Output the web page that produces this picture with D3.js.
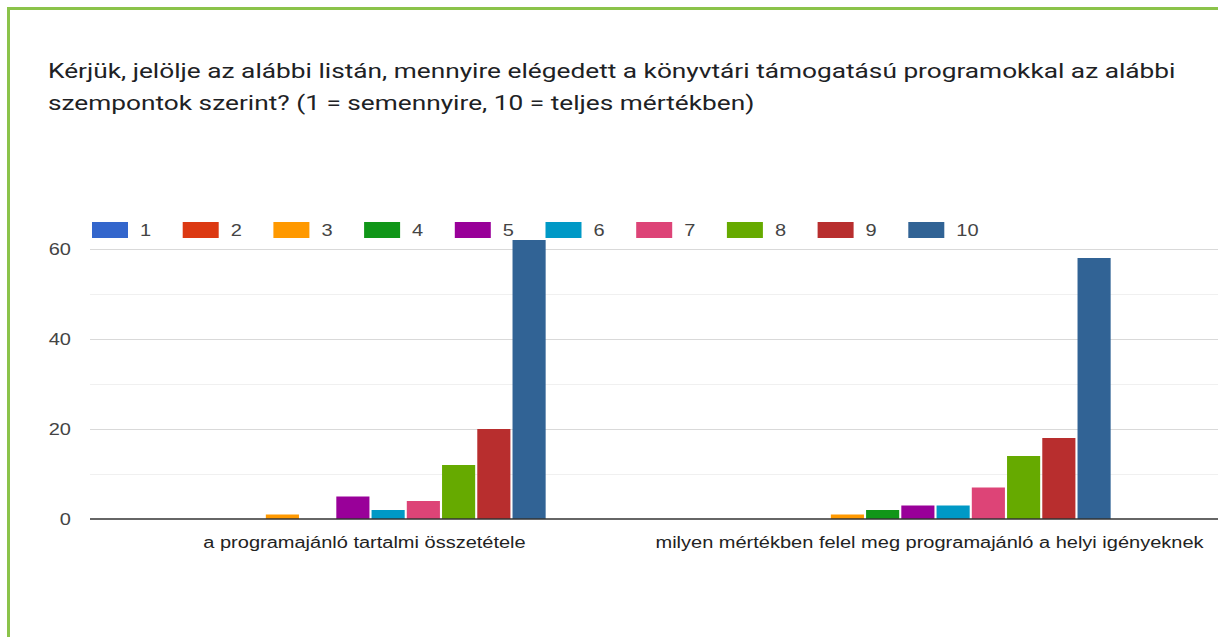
<!DOCTYPE html>
<html>
<head>
<meta charset="utf-8">
<script src="https://cdn.jsdelivr.net/npm/d3@7"></script>
<style>
  html, body { margin: 0; padding: 0; background: #fff; }
  svg { display: block; font-family: Roboto, Arial, sans-serif; }
</style>
</head>
<body>
<div id="chart"></div>
<script>
// chart data
let titleLines = [
	"Kérjük, jelölje az alábbi listán, mennyire elégedett a könyvtári támogatású programokkal az alábbi",
	"szempontok szerint? (1 = semennyire, 10 = teljes mértékben)",
];
let categories = [
	"a programajánló tartalmi összetétele",
	"milyen mértékben felel meg programajánló a helyi igényeknek",
];
let seriesNames = ["1", "2", "3", "4", "5", "6", "7", "8", "9", "10"];
let valuesTartalom = [0, 0, 1, 0, 5, 2, 4, 12, 20, 62];
let valuesIgenyek = [0, 0, 1, 2, 3, 3, 7, 14, 18, 58];
let yTicks = [0, 20, 40, 60];
let yMinorTicks = [10, 30, 50];
let colors = [
	"#3366cc", "#dc3912", "#ff9900", "#109618", "#990099",
	"#0099c6", "#dd4477", "#66aa00", "#b82e2e", "#316395",
];

let seriesValues = [valuesTartalom, valuesIgenyek];

let width = 1218;
let height = 637;
let plot = { left: 90, right: 1218, top: 249, bottom: 519 };
let stretch = 1.25; // the screenshot is a bit wider than tall
let chartFont = "'Liberation Sans', Arial, sans-serif";

// scale a text horizontally around its own anchor
let widen = (x, y) => `translate(${x},${y}) scale(${stretch},1)`;

let svg = d3
	.select("#chart")
	.append("svg")
	.attr("width", width)
	.attr("height", height);

// green frame, cut at the right / bottom like the screenshot
svg
	.append("rect")
	.attr("x", 8.5)
	.attr("y", 8.5)
	.attr("width", width + 20)
	.attr("height", height + 20)
	.attr("fill", "none")
	.attr("stroke", "#8bc34a")
	.attr("stroke-width", 3);

svg
	.append("g")
	.selectAll("text")
	.data(titleLines)
	.join("text")
	.attr("transform", (d, i) => widen(48, 78 + i * 32))
	.attr("font-size", 21)
	.attr("fill", "#202124")
	.text((d) => d);

let xScale = d3
	.scaleBand()
	.domain(categories)
	.range([88, 1218])
	.paddingInner(0.38)
	.paddingOuter(0.19);

let xInner = d3
	.scaleBand()
	.domain(seriesNames)
	.range([0, xScale.bandwidth()])
	.paddingInner(0.06);

let yScale = d3
	.scaleLinear()
	.domain([0, 60])
	.range([plot.bottom, plot.top]);

// minor gridlines
svg
	.append("g")
	.selectAll("line")
	.data(yMinorTicks)
	.join("line")
	.attr("x1", plot.left)
	.attr("x2", plot.right)
	.attr("y1", (d) => yScale(d) + 0.5)
	.attr("y2", (d) => yScale(d) + 0.5)
	.attr("stroke", "#f0f0f0");

let yAxis = d3
	.axisLeft(yScale)
	.tickValues(yTicks)
	.tickSizeInner(-(plot.right - plot.left))
	.tickSizeOuter(0)
	.tickPadding(0);

svg
	.append("g")
	.attr("transform", `translate(${plot.left},0)`)
	.call(yAxis)
	.call((g) => g.select(".domain").remove())
	.call((g) =>
		g
			.selectAll("line")
			.attr("stroke", (d) => (d === 0 ? "none" : "#d9d9d9"))
	)
	.call((g) =>
		g
			.selectAll("text")
			.attr("x", null)
			.attr("transform", widen(-19, 0))
			.attr("font-size", 16)
			.attr("font-family", chartFont)
			.attr("fill", "#444")
	);

// bars
let groups = svg
	.append("g")
	.selectAll("g")
	.data(categories)
	.join("g")
	.attr("transform", (d) => `translate(${xScale(d)},0)`);

groups
	.selectAll("rect")
	.data((d, i) => seriesValues[i].map((v, j) => ({ name: seriesNames[j], value: v })))
	.join("rect")
	.attr("x", (d) => xInner(d.name))
	.attr("width", xInner.bandwidth())
	.attr("y", (d) => yScale(d.value))
	.attr("height", (d) => yScale(0) - yScale(d.value))
	.attr("fill", (d, i) => colors[i]);

// baseline
svg
	.append("line")
	.attr("x1", plot.left)
	.attr("x2", plot.right)
	.attr("y1", yScale(0))
	.attr("y2", yScale(0))
	.attr("stroke", "#333")
	.attr("stroke-width", 1.5);

let xAxis = d3.axisBottom(xScale).tickSize(0).tickPadding(0);

svg
	.append("g")
	.attr("transform", `translate(0,${plot.bottom})`)
	.call(xAxis)
	.call((g) => g.select(".domain").remove())
	.call((g) =>
		g
			.selectAll("text")
			.attr("y", null)
			.attr("dy", null)
			.attr("transform", widen(-6, 29))
			.attr("font-size", 16)
			.attr("font-family", chartFont)
			.attr("fill", "#222")
	);

// legend
let legend = svg
	.append("g")
	.selectAll("g")
	.data(seriesNames)
	.join("g")
	.attr("transform", (d, i) => `translate(${92 + i * 90.7},222)`);

legend
	.append("rect")
	.attr("width", 36)
	.attr("height", 16)
	.attr("fill", (d, i) => colors[i]);

legend
	.append("text")
	.attr("transform", widen(48, 14))
	.attr("font-size", 16)
	.attr("font-family", chartFont)
	.attr("fill", "#444")
	.text((d) => d);
</script>
</body>
</html>
